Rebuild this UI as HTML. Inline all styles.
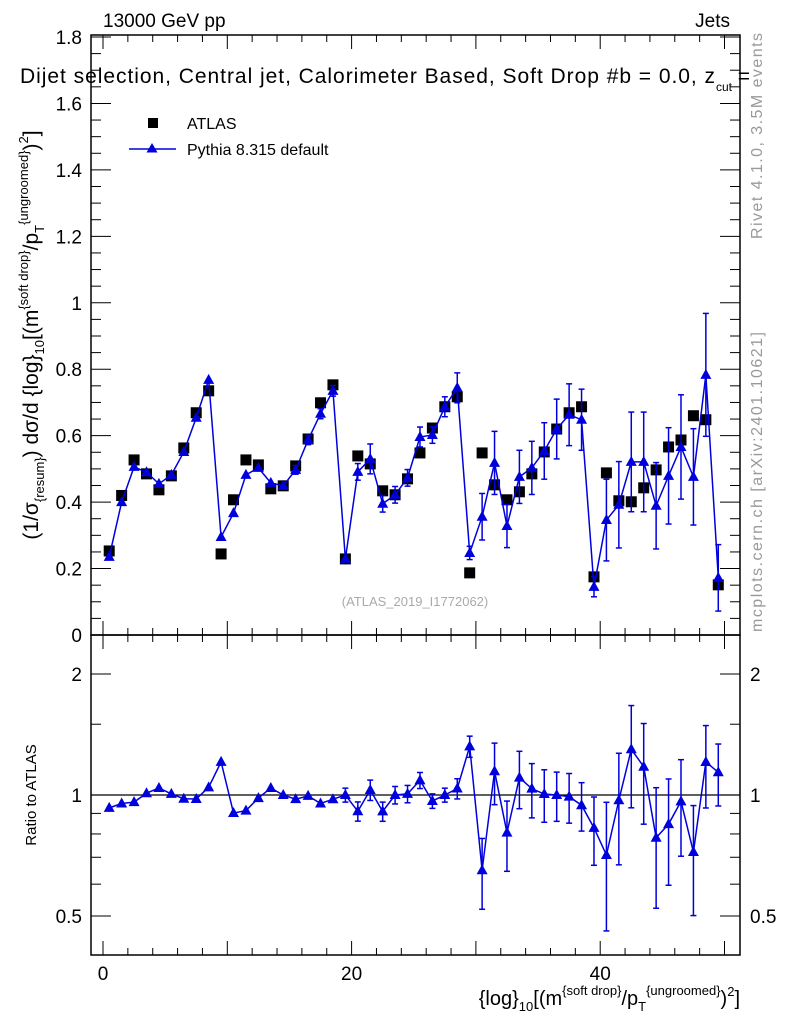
<!DOCTYPE html>
<html><head><meta charset="utf-8"><style>
body{margin:0;background:#fff}svg{display:block;font-family:"Liberation Sans",sans-serif}
</style></head><body>
<svg id="c" width="786" height="1024" viewBox="0 0 786 1024">
<text x="103" y="27" font-size="19">13000 GeV pp</text>
<text x="730" y="27" font-size="19" text-anchor="end">Jets</text>
<text x="415" y="606" font-size="13" fill="#aaa" text-anchor="middle">(ATLAS_2019_I1772062)</text>
<text transform="translate(762,136) rotate(-90)" font-size="16" fill="#999" text-anchor="middle" textLength="206">Rivet 4.1.0,  3.5M events</text>
<text transform="translate(762,482) rotate(-90)" font-size="16" fill="#999" text-anchor="middle" textLength="300">mcplots.cern.ch [arXiv:2401.10621]</text>
<g id="main"></g>
<g id="ratio"></g>
<text x="20" y="83" font-size="21"><tspan textLength="695">Dijet selection, Central jet, Calorimeter Based, Soft Drop #b = 0.0, z</tspan><tspan font-size="12" dy="8">cut</tspan><tspan dy="-8"> =</tspan></text>
<g>
<rect x="148" y="118" width="10" height="10" fill="#000"/>
<text x="187" y="129" font-size="16">ATLAS</text>
<line x1="129" y1="149" x2="176" y2="149" stroke="#0000dd" stroke-width="1.5"/>
<polygon points="152,143 146.5,152.5 157.5,152.5" fill="#0000dd"/>
<text x="187" y="155" font-size="16">Pythia 8.315 default</text>
</g>
<text transform="translate(38,335) rotate(-90)" font-size="21" text-anchor="middle">(1/σ<tspan font-size="13" dy="6">{resum}</tspan><tspan dy="-6">) dσ/d {log}</tspan><tspan font-size="13" dy="6">10</tspan><tspan dy="-6">[(m</tspan><tspan font-size="13" dy="-10">{soft drop}</tspan><tspan dy="10">/p</tspan><tspan font-size="13" dy="6">T</tspan><tspan font-size="13" dy="-16">{ungroomed}</tspan><tspan dy="10">)</tspan><tspan font-size="13" dy="-10">2</tspan><tspan dy="10">]</tspan></text>
<text transform="translate(36,795) rotate(-90)" font-size="15" text-anchor="middle">Ratio to ATLAS</text>
<text x="740" y="1005" font-size="20" text-anchor="end">{log}<tspan font-size="13" dy="6">10</tspan><tspan dy="-6">[(m</tspan><tspan font-size="13" dy="-10">{soft drop}</tspan><tspan dy="10">/p</tspan><tspan font-size="13" dy="6">T</tspan><tspan font-size="13" dy="-16">{ungroomed}</tspan><tspan dy="10">)</tspan><tspan font-size="13" dy="-9">2</tspan><tspan dy="9">]</tspan></text>
</svg>
<script>
const atlasValues=[0.253,0.42,0.527,0.485,0.437,0.479,0.563,0.669,0.735,0.244,0.407,0.527,0.512,0.44,0.449,0.509,0.59,0.699,0.753,0.229,0.539,0.515,0.434,0.422,0.47,0.548,0.623,0.687,0.717,0.187,0.548,0.452,0.407,0.431,0.485,0.551,0.62,0.669,0.687,0.175,0.488,0.404,0.401,0.443,0.497,0.566,0.587,0.66,0.648,0.151];
const pythiaValues=[0.235,0.40,0.506,0.49,0.455,0.482,0.551,0.654,0.768,0.295,0.367,0.482,0.503,0.458,0.449,0.497,0.587,0.666,0.735,0.229,0.491,0.53,0.395,0.422,0.473,0.596,0.602,0.687,0.744,0.247,0.356,0.518,0.328,0.476,0.503,0.554,0.62,0.663,0.648,0.145,0.346,0.392,0.521,0.521,0.389,0.479,0.566,0.476,0.783,0.172];
const pythiaErrors=[0.005,0.006,0.007,0.007,0.007,0.007,0.008,0.009,0.01,0.008,0.01,0.012,0.012,0.012,0.012,0.013,0.014,0.015,0.016,0.012,0.025,0.045,0.025,0.025,0.025,0.03,0.025,0.03,0.045,0.02,0.07,0.095,0.065,0.08,0.08,0.085,0.09,0.093,0.092,0.03,0.123,0.13,0.15,0.15,0.13,0.145,0.157,0.145,0.185,0.1];
const ratioErrors=[0.005,0.006,0.007,0.007,0.007,0.007,0.008,0.009,0.01,0.02,0.02,0.02,0.02,0.02,0.02,0.02,0.02,0.02,0.02,0.04,0.05,0.06,0.05,0.05,0.05,0.05,0.04,0.04,0.06,0.08,0.13,0.2,0.16,0.18,0.16,0.15,0.14,0.14,0.13,0.16,0.25,0.3,0.37,0.33,0.26,0.25,0.26,0.22,0.28,0.2];
const mainYTicks=[0,0.2,0.4,0.6,0.8,1,1.2,1.4,1.6,1.8];
const mainYLabels=["0","0.2","0.4","0.6","0.8","1","1.2","1.4","1.6","1.8"];
const ratioTicks=[0.5,1,2];
const ratioLabels=["0.5","1","2"];
const xTicks=[0,20,40];
const NS="http://www.w3.org/2000/svg";
const L=91,R=740,MT=35,MB=635,RB=955;
const xs=v=>103+(v)*12.43;
const ym=v=>MB-(v/1.806)*(MB-MT);
const yr=v=>795-Math.log2(v)*121;
function mk(p,tag,a){const e=document.createElementNS(NS,tag);for(const k in a)e.setAttribute(k,a[k]);p.appendChild(e);return e;}
const main=document.getElementById('main'),ratio=document.getElementById('ratio');
function frame(g,top,bot){const f=mk(g,'rect',{x:L,y:top,width:R-L,height:bot-top,fill:'none',stroke:'#000','stroke-width':1.5});


for(let v=-1;v<=51;v++){if(v%2)continue;const big=v%10===0;const h=big?14:7;
mk(g,'line',{x1:xs(v),y1:bot,x2:xs(v),y2:bot-h,stroke:'#000'});mk(g,'line',{x1:xs(v),y1:top,x2:xs(v),y2:top+h,stroke:'#000'});}}
frame(main,MT,MB);frame(ratio,MB,RB);
for(let v=0;v<=1.8001;v+=0.05){const big=Math.abs(v/0.2-Math.round(v/0.2))<1e-6;const h=big?20:10;
mk(main,'line',{x1:L,y1:ym(v),x2:L+h,y2:ym(v),stroke:'#000'});mk(main,'line',{x1:R,y1:ym(v),x2:R-h,y2:ym(v),stroke:'#000'});}
mainYTicks.forEach((v,i)=>{const t=mk(main,'text',{x:82,y:ym(v)+7,'font-size':19,'text-anchor':'end'});t.textContent=mainYLabels[i];

});
[0.5,0.6,0.7,0.8,0.9,1,1.5,2].forEach(v=>{const big=ratioTicks.includes(v);const h=big?20:10;
mk(ratio,'line',{x1:L,y1:yr(v),x2:L+h,y2:yr(v),stroke:'#000'});mk(ratio,'line',{x1:R,y1:yr(v),x2:R-h,y2:yr(v),stroke:'#000'});});
ratioTicks.forEach((v,i)=>{[[82,'end'],[750,'start']].forEach(([x,a])=>{const t=mk(ratio,'text',{x:x,y:yr(v)+7,'font-size':19,'text-anchor':a});t.textContent=ratioLabels[i];

});});
xTicks.forEach(v=>{const t=mk(ratio,'text',{x:xs(v),y:980,'font-size':19,'text-anchor':'middle'});t.textContent=v;

});
const ref=mk(ratio,'line',{x1:L,y1:yr(1),x2:R,y2:yr(1),stroke:'#000','stroke-width':1.2});


function tri(g,x,y){const p=mk(g,'polygon',{points:`${x},${y-6} ${x-5.5},${y+4} ${x+5.5},${y+4}`,fill:'#0000dd'});return p;}
function series(g,vals,errs,yf,nm){
const pts=vals.map((v,i)=>xs(i+0.5)+','+yf(v)).join(' ');
const pl=mk(g,'polyline',{points:pts,fill:'none',stroke:'#0000dd','stroke-width':1.5});


vals.forEach((v,i)=>{const x=xs(i+0.5);const y1=yf(Math.max(v-errs[i],0.01)),y2=yf(v+errs[i]);
if(Math.abs(y1-y2)>8){mk(g,'line',{x1:x,y1:y1,x2:x,y2:y2,stroke:'#0000dd','stroke-width':1.5});
mk(g,'line',{x1:x-3,y1:y1,x2:x+3,y2:y1,stroke:'#0000dd','stroke-width':1.5});mk(g,'line',{x1:x-3,y1:y2,x2:x+3,y2:y2,stroke:'#0000dd','stroke-width':1.5});}
const t=tri(g,x,yf(v));

});}
atlasValues.forEach((v,i)=>{const r=mk(main,'rect',{x:xs(i+0.5)-5.5,y:ym(v)-5.5,width:11,height:11,fill:'#000'});

});
series(main,pythiaValues,pythiaErrors,ym,'pythia');
const rv=pythiaValues.map((v,i)=>v/atlasValues[i]);
series(ratio,rv,ratioErrors,yr,'pythia-ratio');
</script>
</body></html>
